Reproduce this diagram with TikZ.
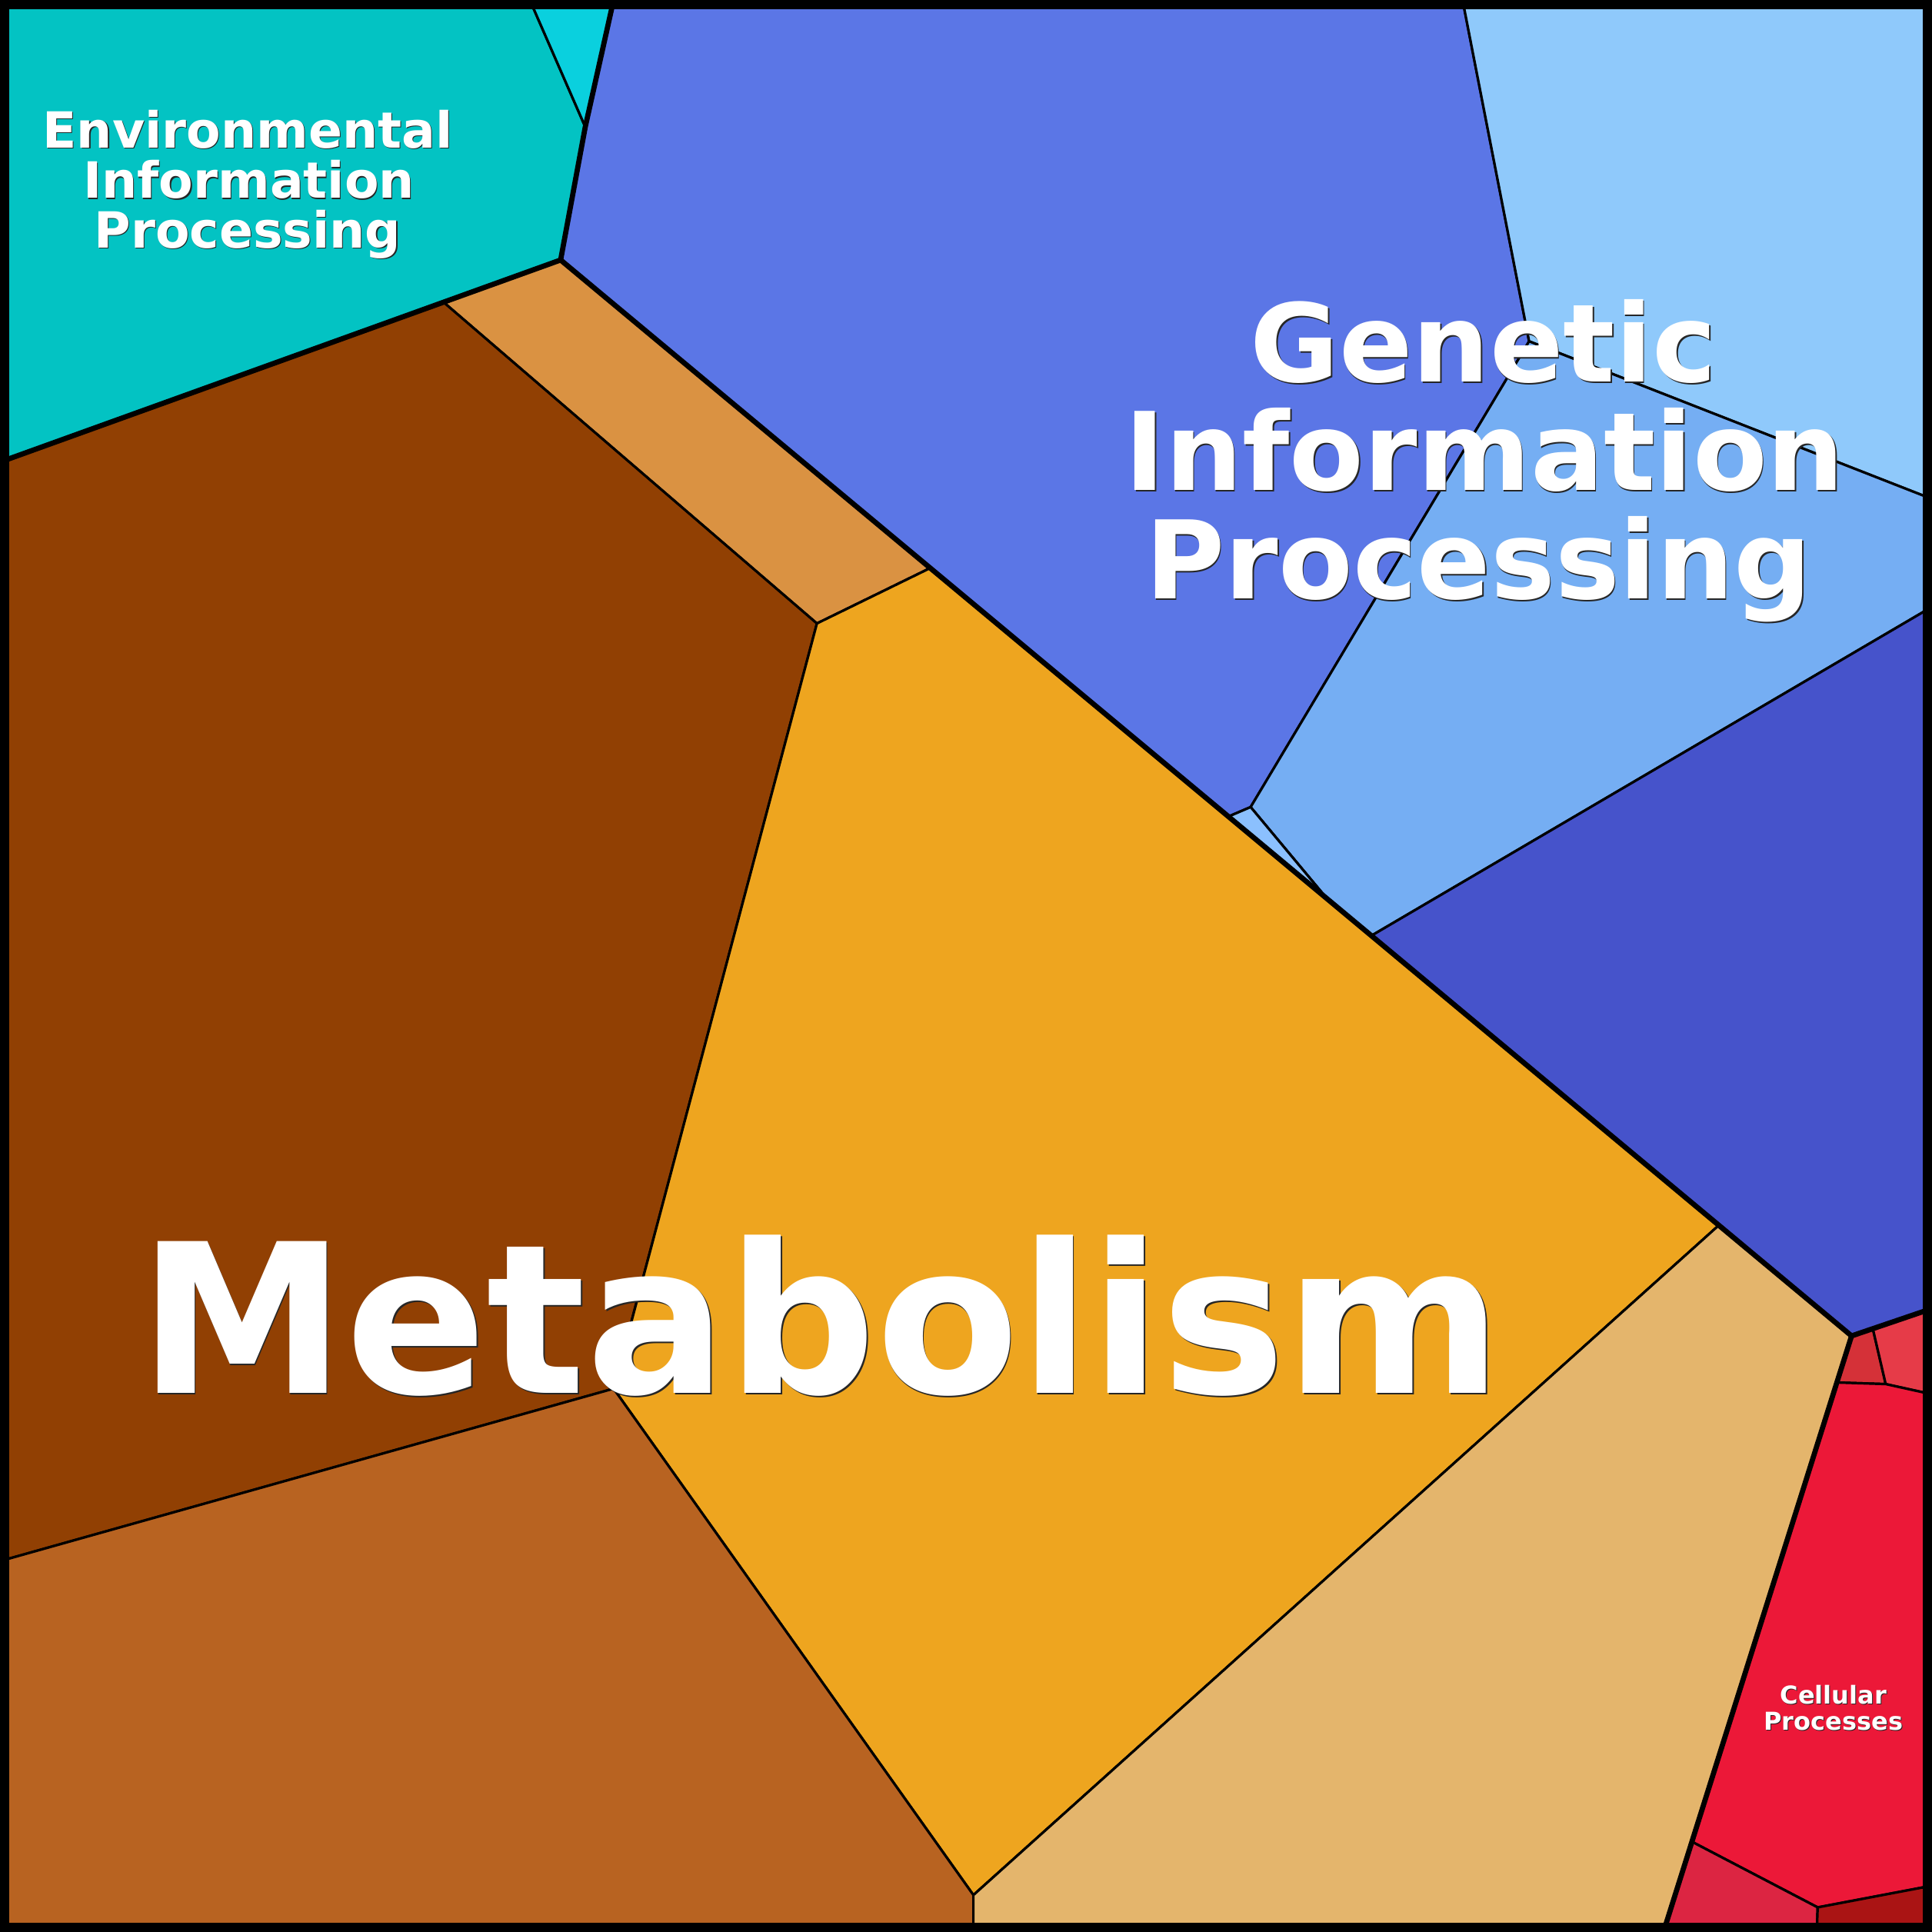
\documentclass[tikz,border=0pt]{standalone}
\usepackage{fontspec}
\setmainfont{DejaVu Sans}
\definecolor{envA}{HTML}{03C3C3}
\definecolor{envB}{HTML}{0AD0DE}
\definecolor{genA}{HTML}{5B76E6}
\definecolor{genB}{HTML}{8FC9FB}
\definecolor{genC}{HTML}{75AEF3}
\definecolor{genD}{HTML}{8BC0FE}
\definecolor{genE}{HTML}{4653CB}
\definecolor{metA}{HTML}{914003}
\definecolor{metB}{HTML}{DA9242}
\definecolor{metC}{HTML}{EEA51F}
\definecolor{metD}{HTML}{B86321}
\definecolor{metE}{HTML}{E4B56C}
\definecolor{celA}{HTML}{EC1838}
\definecolor{celB}{HTML}{D53138}
\definecolor{celC}{HTML}{E63B48}
\definecolor{celD}{HTML}{DC2542}
\definecolor{celE}{HTML}{AA1414}
\newcommand\shd[2]{\makebox[0pt][l]{\kern#1\raisebox{-#1}{\textcolor{black!85}{#2}}}#2}
\begin{document}
\begin{tikzpicture}[x=0.5pt,y=-0.5pt,
  cell/.style={draw=black,line width=1pt,line join=round},
  major/.style={draw=black,line width=2.1pt,line join=round,line cap=round},
  lbl/.style={text=white,font=\bfseries,inner sep=0pt,anchor=base}]
\useasboundingbox (0,0) rectangle (1568,1568);
% corners
\coordinate (TL) at (0,0);
\coordinate (TR) at (1568,0);
\coordinate (BL) at (0,1568);
\coordinate (BR) at (1568,1568);
% environmental
\coordinate (a) at (430,0);
\coordinate (b) at (498,0);
\coordinate (c) at (475,103);
\coordinate (d) at (455,211);
\coordinate (e) at (0,375);
% genetic
\coordinate (s1) at (1187,0);
\coordinate (V1) at (1241,277);
\coordinate (r1) at (1568,405);
\coordinate (r2) at (1568,492.5);
\coordinate (r3) at (1568,1062);
\coordinate (p1) at (997,662.7);
\coordinate (p2) at (1015,655);
\coordinate (p3) at (1077,729.4);
\coordinate (p4) at (1113,759.4);
\coordinate (J) at (1502.7,1084.2);
% metabolism
\coordinate (f) at (360,245.3);
\coordinate (g) at (663,506);
\coordinate (h) at (755,461);
\coordinate (p5) at (1395,994.4);
\coordinate (m1) at (498,1127);
\coordinate (m2) at (0,1267);
\coordinate (m3) at (790,1538);
\coordinate (m4) at (790,1568);
\coordinate (q) at (1350,1568);
% cellular
\coordinate (c1) at (1520,1078.5);
\coordinate (c2) at (1530.4,1123.3);
\coordinate (c3) at (1568,1131.6);
\coordinate (c4) at (1490.7,1122);
\coordinate (c5) at (1372.9,1494.6);
\coordinate (c6) at (1475.2,1548);
\coordinate (c7) at (1568,1530.4);
\coordinate (c8) at (1474.5,1568);

% environmental cells
\filldraw[cell,fill=envA] (TL)--(a)--(c)--(d)--(e)--cycle;
\filldraw[cell,fill=envB] (a)--(b)--(c)--cycle;
% genetic cells
\filldraw[cell,fill=genA] (b)--(s1)--(V1)--(p2)--(p1)--(d)--(c)--cycle;
\filldraw[cell,fill=genB] (s1)--(TR)--(r1)--(V1)--cycle;
\filldraw[cell,fill=genC] (V1)--(r1)--(r2)--(p4)--(p3)--(p2)--cycle;
\filldraw[cell,fill=genD] (p1)--(p2)--(p3)--cycle;
\filldraw[cell,fill=genE] (p4)--(r2)--(r3)--(J)--cycle;
% metabolism cells
\filldraw[cell,fill=metB] (f)--(d)--(h)--(g)--cycle;
\filldraw[cell,fill=metA] (e)--(f)--(g)--(m1)--(m2)--cycle;
\filldraw[cell,fill=metC] (g)--(h)--(p5)--(m3)--(m1)--cycle;
\filldraw[cell,fill=metD] (m2)--(m1)--(m3)--(m4)--(BL)--cycle;
\filldraw[cell,fill=metE] (p5)--(J)--(q)--(m4)--(m3)--cycle;
% cellular cells
\filldraw[cell,fill=celB] (J)--(c1)--(c2)--(c4)--cycle;
\filldraw[cell,fill=celC] (c1)--(r3)--(c3)--(c2)--cycle;
\filldraw[cell,fill=celA] (c4)--(c2)--(c3)--(c7)--(c6)--(c5)--cycle;
\filldraw[cell,fill=celD] (c5)--(c6)--(c8)--(q)--cycle;
\filldraw[cell,fill=celE] (c6)--(c7)--(BR)--(c8)--cycle;

% category boundaries
\draw[major] (b)--(c)--(d)--(e);
\draw[major] (d)--(J);
\draw[major] (r3)--(J)--(q);
% outer frame
\draw[draw=black,line width=3.75pt] (3.75,3.75) rectangle (1564.25,1564.25);

% labels
\node[lbl,font=\bfseries\fontsize{20.25pt}{20.25pt}\selectfont] (env1) at (201,120) {\shd{0.35pt}{Environmental}};
\node[lbl,font=\bfseries\fontsize{20.25pt}{20.25pt}\selectfont] (env2) at (202,161) {\shd{0.35pt}{Information}};
\node[lbl,font=\bfseries\fontsize{20.25pt}{20.25pt}\selectfont] (env3) at (201,201) {\shd{0.35pt}{Processing}};
\node[lbl,font=\bfseries\fontsize{44pt}{44pt}\selectfont] (gen1) at (1204,310) {\shd{0.5pt}{Genetic}};
\node[lbl,font=\bfseries\fontsize{44pt}{44pt}\selectfont] (gen2) at (1205,398) {\shd{0.5pt}{Information}};
\node[lbl,font=\bfseries\fontsize{44pt}{44pt}\selectfont] (gen3) at (1200,486) {\shd{0.5pt}{Processing}};
\node[lbl,font=\bfseries\fontsize{84.5pt}{84.5pt}\selectfont] (met) at (666,1131) {\shd{0.6pt}{Metabolism}};
\node[lbl,font=\bfseries\fontsize{10pt}{10pt}\selectfont] (cel1) at (1488,1383) {\shd{0.3pt}{Cellular}};
\node[lbl,font=\bfseries\fontsize{10pt}{10pt}\selectfont] (cel2) at (1488,1404) {\shd{0.3pt}{Processes}};
\end{tikzpicture}
\end{document}
